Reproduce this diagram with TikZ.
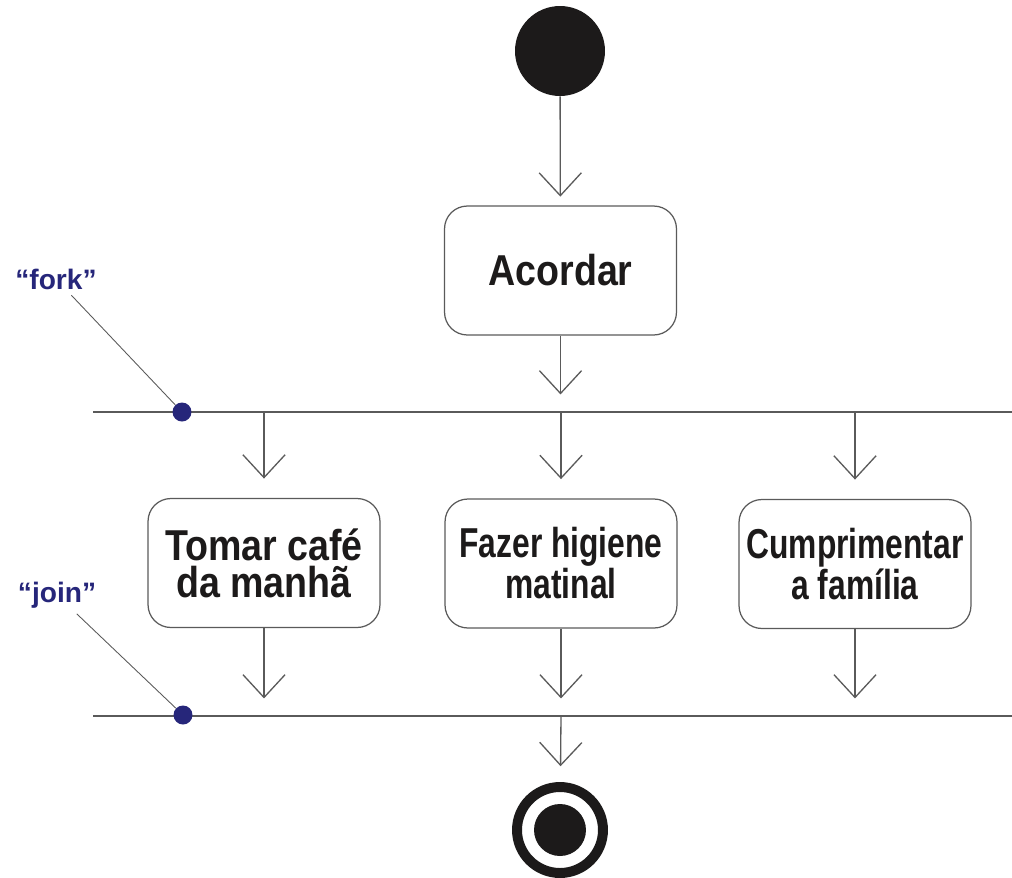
\documentclass[tikz,border=0pt]{standalone}
\usepackage{fontspec}
\usepackage{tikz}
\usetikzlibrary{arrows.meta}
\setmainfont{Liberation Sans}
\newfontfamily\acaofont{Liberation Sans}[FakeStretch=0.76]
\newfontfamily\acordarfont{Liberation Sans}[FakeStretch=0.87]
\definecolor{anil}{HTML}{26267A}
\definecolor{traco}{HTML}{5A5A5A}
\definecolor{texto}{HTML}{1C1A1A}

\begin{document}
\begin{tikzpicture}[x=0.02cm,y=-0.02cm,
  acao/.style={draw=traco,line width=0.7pt,rounded corners=13pt,minimum width=4.64cm,minimum height=2.58cm,inner sep=0pt,align=center,text=texto,font=\acaofont\bfseries\fontsize{23.8}{21}\selectfont},
  seta/.style={draw=traco,line width=0.75pt,-{Straight Barb[length=13pt,width=24pt]},shorten >=11pt},
  barra/.style={draw=traco,line width=0.8pt},
  ponto/.style={circle,fill=anil,inner sep=0pt,minimum size=0.38cm},
  rotulo/.style={text=anil,font=\bfseries\fontsize{16}{19}\selectfont,inner sep=1pt},
  guia/.style={draw=traco,line width=0.5pt,shorten <=3pt}]
\useasboundingbox (0,0) rectangle (1012,877);
\node[circle,fill=texto,minimum size=1.8cm,inner sep=0pt] (inicio) at (560,51) {};
\node[acao,font=\acordarfont\bfseries\fontsize{24.6}{28}\selectfont] (acordar) at (560.5,270.5) {Acordar};
\node[acao,font=\acordarfont\bfseries\fontsize{24.6}{21}\selectfont] (cafe) at (264,563) {Tomar café\\da manhã};
\node[acao] (higiene) at (561,563.5) {Fazer higiene\\matinal};
\node[acao] (familia) at (855,564) {Cumprimentar\\a família};
\node[circle,draw=texto,line width=5.67pt,minimum size=1.72cm,inner sep=0pt] (fim) at (560,830) {};
\fill[texto] (fim.center) circle (0.52cm);
% fork / join
\coordinate (forkE) at (93,412);
\coordinate (forkD) at (1012,412);
\coordinate (joinE) at (93,716);
\coordinate (joinD) at (1012,716);
\draw[barra] (forkE) -- (forkD);
\draw[barra] (joinE) -- (joinD);
\draw[seta,shorten >=5pt] (inicio) -- (acordar);
\draw[seta,shorten >=10pt] (acordar) -- (acordar.south |- forkE);
\draw[seta] (cafe.north |- forkE) -- (cafe);
\draw[seta] (higiene.north |- forkE) -- (higiene);
\draw[seta] (familia.north |- forkE) -- (familia);
\draw[seta,shorten >=10pt] (cafe) -- (cafe.south |- joinE);
\draw[seta,shorten >=10pt] (higiene) -- (higiene.south |- joinE);
\draw[seta,shorten >=10pt] (familia) -- (familia.south |- joinE);
\draw[seta,shorten >=9pt] (higiene.south |- joinE) -- (fim);
\node[ponto] (pfork) at (182,412) {};
\node[ponto] (pjoin) at (183,715) {};
\node[rotulo] (lfork) at (56,279) {“fork”};
\node[rotulo] (ljoin) at (57,595) {“join”};
\draw[guia] (lfork) -- (pfork);
\draw[guia] (ljoin) -- (pjoin);
\end{tikzpicture}
\end{document}
